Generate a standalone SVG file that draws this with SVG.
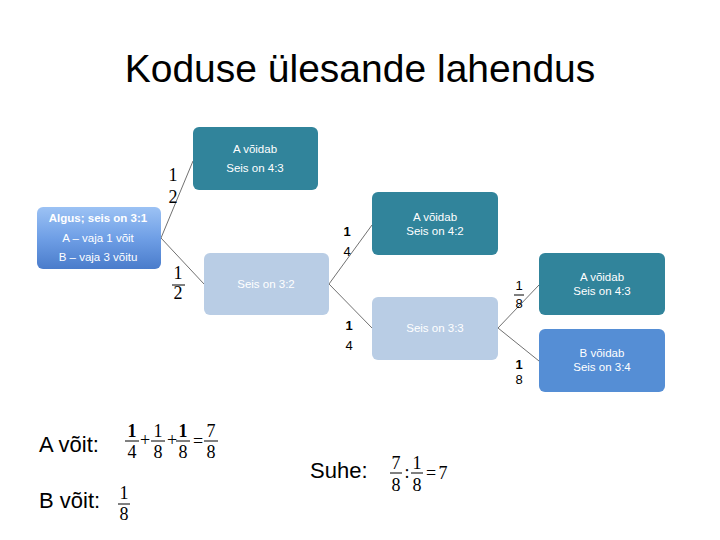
<svg xmlns="http://www.w3.org/2000/svg" width="720" height="540" viewBox="0 0 720 540">
<defs>
<linearGradient id="gStart" x1="0" y1="0" x2="0" y2="1">
<stop offset="0" stop-color="#9CC2F4"/>
<stop offset="0.5" stop-color="#6F9FE6"/>
<stop offset="1" stop-color="#4A7CCB"/>
</linearGradient>
<style>
.title{font-family:"Liberation Sans","Open Sans",sans-serif;font-size:39px;fill:#000}
.nt{font-family:"Liberation Sans","Open Sans",sans-serif;font-size:11.5px;fill:#fff;text-anchor:middle}
.teal{fill:#31849B}
.light{fill:#B9CDE5}
.blue{fill:#558ED5}
.conn line{stroke:#4d4d4d;stroke-width:0.8}
.fr{font-family:"Liberation Serif","Times New Roman",serif;font-size:18px;fill:#000;text-anchor:middle}
.frs{font-family:"Liberation Sans",Arial,sans-serif;font-size:13px;fill:#000;text-anchor:middle}
.bar{stroke:#000;stroke-width:1}
.lab{font-family:"Liberation Sans",Arial,sans-serif;font-size:22px;fill:#000}
</style>
</defs>
<rect width="720" height="540" fill="#fff"/>
<text class="title" x="360" y="82" text-anchor="middle">Koduse ülesande lahendus</text>

<g class="conn">
<line x1="161" y1="238" x2="193" y2="161"/>
<line x1="161" y1="238" x2="204" y2="284"/>
<line x1="329" y1="284" x2="372" y2="225"/>
<line x1="329" y1="284" x2="372" y2="328"/>
<line x1="498" y1="328" x2="539" y2="285"/>
<line x1="498" y1="328" x2="539" y2="361"/>
</g>

<g id="start">
<rect x="37" y="207" width="124" height="62" rx="6" fill="url(#gStart)"/>
<text class="nt" x="98" y="222" font-weight="bold">Algus; seis on 3:1</text>
<text class="nt" x="98" y="242">A – vaja 1 võit</text>
<text class="nt" x="98" y="261">B – vaja 3 võitu</text>
</g>
<g id="n43a">
<rect class="teal" x="193" y="127" width="125" height="63" rx="6"/>
<text class="nt" x="255" y="153">A võidab</text>
<text class="nt" x="255" y="172">Seis on 4:3</text>
</g>
<g id="n32">
<rect class="light" x="204" y="253" width="125" height="62" rx="6"/>
<text class="nt" x="266" y="288">Seis on 3:2</text>
</g>
<g id="n42">
<rect class="teal" x="372" y="192" width="126" height="63" rx="6"/>
<text class="nt" x="435" y="221">A võidab</text>
<text class="nt" x="435" y="235">Seis on 4:2</text>
</g>
<g id="n33">
<rect class="light" x="372" y="297" width="126" height="63" rx="6"/>
<text class="nt" x="435" y="332">Seis on 3:3</text>
</g>
<g id="n43b">
<rect class="teal" x="539" y="253" width="126" height="62" rx="6"/>
<text class="nt" x="602" y="281">A võidab</text>
<text class="nt" x="602" y="295">Seis on 4:3</text>
</g>
<g id="n34">
<rect class="blue" x="539" y="329" width="126" height="63" rx="6"/>
<text class="nt" x="602" y="357">B võidab</text>
<text class="nt" x="602" y="371">Seis on 3:4</text>
</g>

<g id="probs">
<text class="fr" x="173" y="181">1</text>
<text class="fr" x="173" y="203">2</text>
<text class="fr" x="178" y="279">1</text>
<line class="bar" x1="172" y1="285" x2="185" y2="285"/>
<text class="fr" x="178" y="299">2</text>
<text class="frs" x="347" y="236" font-weight="bold">1</text>
<text class="frs" x="347" y="256">4</text>
<text class="frs" x="349" y="330" font-weight="bold">1</text>
<text class="frs" x="349" y="350">4</text>
<text class="frs" x="519" y="290" font-size="12">1</text>
<line class="bar" x1="514" y1="295" x2="524" y2="295"/>
<text class="frs" x="519" y="308" font-size="12">8</text>
<text class="frs" x="519" y="369" font-size="12" font-weight="bold">1</text>
<text class="frs" x="519" y="384" font-size="12">8</text>
</g>

<g id="aWin">
<text class="lab" x="39" y="452">A võit:</text>
<text class="fr" x="132" y="437" font-weight="bold">1</text>
<line class="bar" x1="125" y1="441" x2="139" y2="441"/>
<text class="fr" x="132" y="458">4</text>
<text class="fr" x="145" y="446" font-size="14">+</text>
<text class="fr" x="158" y="437">1</text>
<line class="bar" x1="151" y1="441" x2="165" y2="441"/>
<text class="fr" x="158" y="458">8</text>
<text class="fr" x="172" y="446" font-size="14">+</text>
<text class="fr" x="183" y="437" font-weight="bold">1</text>
<line class="bar" x1="176" y1="441" x2="190" y2="441"/>
<text class="fr" x="183" y="458">8</text>
<text class="fr" x="198" y="447">=</text>
<text class="fr" x="211" y="437">7</text>
<line class="bar" x1="204" y1="441" x2="218" y2="441"/>
<text class="fr" x="211" y="458">8</text>
</g>

<g id="bWin">
<text class="lab" x="39" y="508">B võit:</text>
<text class="fr" x="124" y="499">1</text>
<line class="bar" x1="118" y1="504" x2="130" y2="504"/>
<text class="fr" x="124" y="520">8</text>
</g>

<g id="ratio">
<text class="lab" x="310" y="478">Suhe:</text>
<text class="fr" x="396" y="469">7</text>
<line class="bar" x1="390" y1="473" x2="402" y2="473"/>
<text class="fr" x="396" y="491">8</text>
<text class="fr" x="407" y="478">:</text>
<text class="fr" x="417" y="469">1</text>
<line class="bar" x1="411" y1="473" x2="423" y2="473"/>
<text class="fr" x="417" y="491">8</text>
<text class="fr" x="431" y="479">=</text>
<text class="fr" x="443" y="479">7</text>
</g>
</svg>
